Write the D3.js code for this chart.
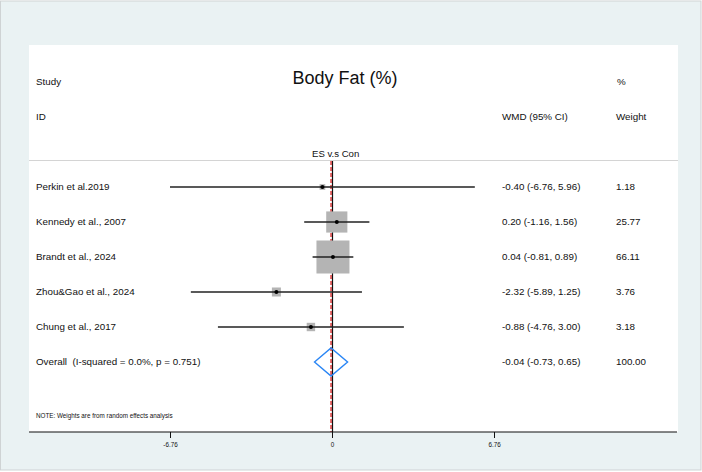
<!DOCTYPE html>
<html><head><meta charset="utf-8">
<script src="https://cdn.jsdelivr.net/npm/d3@7/dist/d3.min.js"></script>
<style>
html,body{margin:0;padding:0;background:#fff;}
svg{display:block;font-family:"Liberation Sans",Arial,Helvetica,sans-serif;}
text{white-space:pre;}
</style></head>
<body>
<svg id="chart" width="702" height="472"></svg>
<script>
// ---- data ----
const studies = ["Perkin et al.2019","Kennedy et al., 2007","Brandt et al., 2024","Zhou&Gao et al., 2024","Chung et al., 2017"];
const es      = [-0.40, 0.20, 0.04, -2.32, -0.88];
const lower   = [-6.76, -1.16, -0.81, -5.89, -4.76];
const upper   = [ 5.96,  1.56,  0.89,  1.25,  3.00];
const weights = [1.18, 25.77, 66.11, 3.76, 3.18];
const overall = {label:"Overall  (I-squared = 0.0%, p = 0.751)", es:-0.04, lo:-0.73, hi:0.65, w:100.00};
const xTicks = [-6.76, 0, 6.76];
const xTickLabels = ["-6.76","0","6.76"];
const title = "Body Fat (%)";
const note = "NOTE: Weights are from random effects analysis";
const groupLabel = "ES v.s Con";

const fmt = v => v.toFixed(2);
const ciText = (e,l,h)=> `${fmt(e)} (${fmt(l)}, ${fmt(h)})`;

const svg = d3.select("#chart");
const W = 702, H = 472;
const panel = {x0:29, x1:678, y0:45, y1:432};

// background
svg.append("rect").attr("x",0.5).attr("y",1).attr("width",W-1.5).attr("height",469)
  .attr("fill","rgb(234,242,243)").attr("stroke","#cfd3d4").attr("stroke-width",1);
svg.append("rect").attr("x",panel.x0).attr("y",panel.y0).attr("width",panel.x1-panel.x0).attr("height",panel.y1-panel.y0)
  .attr("fill","#fff");

const x = d3.scaleLinear().domain([-6.76, 6.76]).range([170, 494]);
const rowsAll = studies.concat([overall.label]);
const y = d3.scalePoint().domain(rowsAll).range([187, 362]);
const box = d3.scaleSqrt().domain([0, d3.max(weights)]).range([1.5, 33]);

// headers
const hdr = svg.append("g").attr("font-size","9.8px").attr("fill","#111");
hdr.append("text").attr("x",36).attr("y",85).text("Study");
hdr.append("text").attr("x",36).attr("y",120).text("ID");
hdr.append("text").attr("x",502).attr("y",120).text("WMD (95% CI)");
hdr.append("text").attr("x",617).attr("y",85).text("%");
hdr.append("text").attr("x",616).attr("y",120).text("Weight");
svg.append("text").attr("x",345).attr("y",84).attr("text-anchor","middle")
  .attr("font-size","18px").attr("fill","#111").text(title);
svg.append("text").attr("x",x(0)-20).attr("y",157).attr("font-size","9.6px").attr("fill","#111").text(groupLabel);

// header rule
svg.append("line").attr("x1",panel.x0).attr("x2",panel.x1).attr("y1",160.5).attr("y2",160.5)
  .attr("stroke","#d4d4d4").attr("stroke-width",1);

// null line (black) and overall line (red dashed)
svg.append("line").attr("x1",x(0)+0.5).attr("x2",x(0)+0.5).attr("y1",161).attr("y2",panel.y1)
  .attr("stroke","#111").attr("stroke-width",1.2);
svg.append("line").attr("x1",x(overall.es)).attr("x2",x(overall.es)).attr("y1",161).attr("y2",panel.y1)
  .attr("stroke","#d62020").attr("stroke-width",1.3).attr("stroke-dasharray","4,2");

// study rows
const rows = svg.append("g");
studies.forEach((s,i)=>{
  const yy = y(s);
  const sz = box(weights[i]);
  rows.append("rect").attr("x",x(es[i])-sz/2).attr("y",yy-sz/2).attr("width",sz).attr("height",sz)
    .attr("fill","#b4b4b4");
  rows.append("line").attr("x1",x(lower[i])).attr("x2",x(upper[i])).attr("y1",yy).attr("y2",yy)
    .attr("stroke","#222").attr("stroke-width",1.3);
  rows.append("circle").attr("cx",x(es[i])).attr("cy",yy).attr("r",2).attr("fill","#000");
  rows.append("text").attr("x",36).attr("y",yy).attr("dy","0.35em").attr("font-size","9.8px").attr("fill","#111").text(s);
  rows.append("text").attr("x",502).attr("y",yy).attr("dy","0.35em").attr("font-size","9.8px").attr("fill","#111").text(ciText(es[i],lower[i],upper[i]));
  rows.append("text").attr("x",616).attr("y",yy).attr("dy","0.35em").attr("font-size","9.8px").attr("fill","#111").text(fmt(weights[i]));
});

// overall diamond
const oy = y(overall.label);
const dh = 14;
svg.append("path")
  .attr("d", d3.line()([[x(overall.lo),oy],[x(overall.es),oy-dh],[x(overall.hi),oy],[x(overall.es),oy+dh]]) + "Z")
  .attr("fill","none").attr("stroke","#2a86f5").attr("stroke-width",1.4);
svg.append("text").attr("x",36).attr("y",oy).attr("dy","0.35em").attr("font-size","9.8px").attr("fill","#111").text(overall.label);
svg.append("text").attr("x",502).attr("y",oy).attr("dy","0.35em").attr("font-size","9.8px").attr("fill","#111").text(ciText(overall.es,overall.lo,overall.hi));
svg.append("text").attr("x",616).attr("y",oy).attr("dy","0.35em").attr("font-size","9.8px").attr("fill","#111").text(fmt(overall.w));

// note
svg.append("text").attr("x",36).attr("y",418).attr("font-size","6.3px").attr("fill","#111").text(note);

// x axis
const axisG = svg.append("g").attr("transform",`translate(0,${panel.y1})`)
  .call(d3.axisBottom(x).tickValues(xTicks).tickFormat((d,i)=>xTickLabels[i]).tickSize(6).tickPadding(5));
axisG.select(".domain").remove();
axisG.selectAll(".tick line").attr("stroke","#111");
axisG.selectAll(".tick text").attr("font-size","6.3px").attr("fill","#111").attr("font-family","Liberation Sans, Arial, sans-serif");
svg.append("line").attr("x1",panel.x0).attr("x2",panel.x1-1).attr("y1",panel.y1).attr("y2",panel.y1)
  .attr("stroke","#111").attr("stroke-width",1.2);
</script>
</body></html>
